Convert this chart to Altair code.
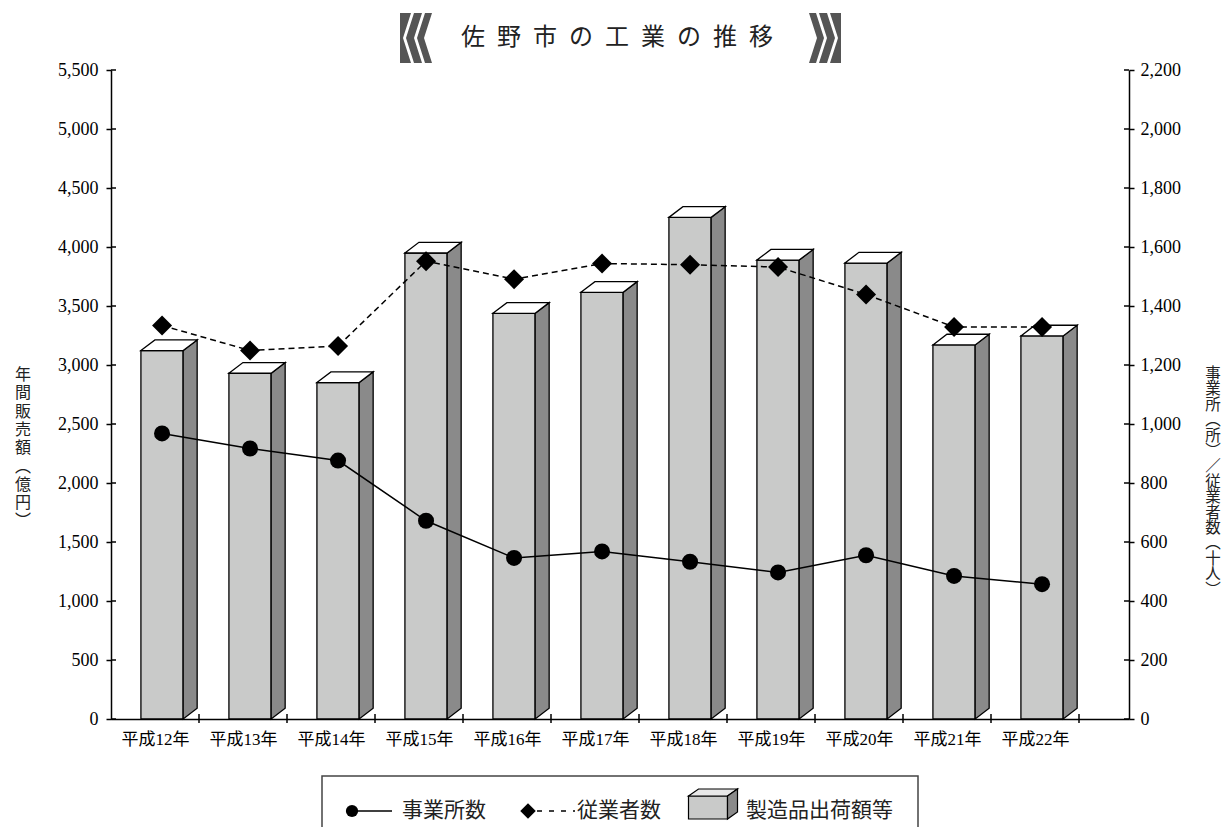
import json
import altair as alt
import pandas as pd

# ---- data ----
cats = ["平成12年", "平成13年", "平成14年", "平成15年", "平成16年", "平成17年",
        "平成18年", "平成19年", "平成20年", "平成21年", "平成22年"]
sales = [3122, 2930, 2851, 3949, 3438, 3616, 4251, 3889, 3864, 3170, 3246]      # 製造品出荷額等 (億円)
estab = [968, 917, 876, 672, 546, 568, 533, 497, 555, 485, 457]                 # 事業所数 (所)
workers = [1334, 1249, 1264, 1552, 1491, 1544, 1540, 1532, 1439, 1329, 1329]    # 従業者数 (十人)
left_ticks = list(range(0, 5501, 500))
right_ticks = list(range(0, 2201, 200))
legend_labels = ["事業所数", "従業者数", "製造品出荷額等"]
title_text = "佐野市の工業の推移"
left_title = "年間販売額︵億円︶"
right_title = "事業所︵所︶／従業者数︵十人︶"

# ---- layout / style ----
W, H = 1018, 649
BAND = 88.0
XMAX = W / BAND
FRONT_L, FRONT_R = 0.34, 0.82
DX = 14 / BAND
DY = 10.7 * 5500 / H
PT = 0.58
NUMF = "Liberation Serif"
SERIF = "Liberation Serif, Noto Sans CJK JP, serif"
SANS = "Noto Sans CJK JP"
FRONT_C, SIDE_C, TOP_C = "#c9cac9", "#8a8a8a", "#ffffff"

n = len(cats)
bars = pd.DataFrame({"i": list(range(n)), "v": sales})
bars["xl"] = bars["i"] + FRONT_L
bars["xr"] = bars["i"] + FRONT_R
bars["lo"] = 0

side_rows, top_rows = [], []
for i, v in enumerate(sales):
    xl, xr = i + FRONT_L, i + FRONT_R
    side_rows += [dict(bar=i, x=xr, lo=0, hi=v), dict(bar=i, x=xr + DX, lo=DY, hi=v + DY)]
    top_rows += [dict(bar=i, x=xl, lo=v, hi=v), dict(bar=i, x=xl + DX, lo=v, hi=v + DY),
                 dict(bar=i, x=xr, lo=v, hi=v + DY), dict(bar=i, x=xr + DX, lo=v + DY, hi=v + DY)]
side_df = pd.DataFrame(side_rows)
top_df = pd.DataFrame(top_rows)

lines = pd.DataFrame({"i": list(range(n)), "estab": estab, "workers": workers})
lines["xc"] = lines["i"] + PT

xscale = alt.Scale(domain=[0, XMAX], nice=False, zero=False)
ylscale = alt.Scale(domain=[0, 5500], nice=False, zero=True)
yrscale = alt.Scale(domain=[0, 2200], nice=False, zero=True)

label_expr = json.dumps(cats, ensure_ascii=False) + "[round(datum.value - 0.5)]"
num_expr = "format(datum.value, ',')"
xaxis = alt.Axis(values=[i + 0.5 for i in range(n)], labelExpr=label_expr, ticks=False, tickSize=0,
                 labelPadding=12, labelFont=SERIF, labelFontSize=17, labelColor="black",
                 domainColor="black", domainWidth=1.5, grid=False, title=None,
                 labelOverlap=False, labelFlush=False, labelBound=False)
ylaxis = alt.Axis(values=left_ticks, labelExpr=num_expr, tickSize=5, tickWidth=1.5, tickColor="black",
                  domainColor="black", domainWidth=1.5, labelPadding=8, labelFont=NUMF,
                  labelFontSize=18, labelColor="black", grid=False, title=None,
                  labelFlush=False, labelOverlap=False)
yraxis = alt.Axis(orient="right", values=right_ticks, labelExpr=num_expr, tickSize=5, tickWidth=1.5,
                  tickColor="black", domainColor="black", domainWidth=1.5, labelPadding=6,
                  labelFont=NUMF, labelFontSize=18, labelColor="black", grid=False, title=None,
                  labelFlush=False, labelOverlap=False)

front = alt.Chart(bars).mark_rect(fill=FRONT_C, stroke="black", strokeWidth=1.3).encode(
    x=alt.X("xl:Q", scale=xscale, axis=xaxis), x2="xr:Q",
    y=alt.Y("v:Q", scale=ylscale, axis=ylaxis), y2="lo:Q")
side = alt.Chart(side_df).mark_area(fill=SIDE_C, stroke="black", strokeWidth=1.3, orient="vertical").encode(
    x=alt.X("x:Q", scale=xscale, axis=xaxis),
    y=alt.Y("hi:Q", scale=ylscale, axis=ylaxis, stack=None), y2="lo:Q", detail="bar:N")
top = alt.Chart(top_df).mark_area(fill=TOP_C, stroke="black", strokeWidth=1.3, orient="vertical").encode(
    x=alt.X("x:Q", scale=xscale, axis=xaxis),
    y=alt.Y("hi:Q", scale=ylscale, axis=ylaxis, stack=None), y2="lo:Q", detail="bar:N")
ltick = alt.Chart(pd.DataFrame({"v": left_ticks})).mark_rule(color="black", strokeWidth=1.5).encode(
    y=alt.Y("v:Q", scale=ylscale, axis=ylaxis), x=alt.value(0), x2=alt.value(5))
xticks = alt.Chart(pd.DataFrame({"b": list(range(1, n + 1))})).mark_rule(color="black", strokeWidth=1.5).encode(
    x=alt.X("b:Q", scale=xscale, axis=xaxis), y=alt.value(H - 5), y2=alt.value(H + 4))
left_group = alt.layer(front, side, top, ltick, xticks)

base = alt.Chart(lines)
l_est = base.mark_line(color="black", strokeWidth=1.5).encode(
    x=alt.X("xc:Q", scale=xscale, axis=xaxis), y=alt.Y("estab:Q", scale=yrscale, axis=yraxis))
p_est = base.mark_point(shape="circle", filled=True, size=256, color="black", opacity=1).encode(
    x=alt.X("xc:Q", scale=xscale, axis=xaxis), y=alt.Y("estab:Q", scale=yrscale, axis=yraxis))
l_wrk = base.mark_line(color="black", strokeWidth=1.5, strokeDash=[6, 4]).encode(
    x=alt.X("xc:Q", scale=xscale, axis=xaxis), y=alt.Y("workers:Q", scale=yrscale, axis=yraxis))
p_wrk = base.mark_point(shape="diamond", filled=True, size=400, color="black", opacity=1).encode(
    x=alt.X("xc:Q", scale=xscale, axis=xaxis), y=alt.Y("workers:Q", scale=yrscale, axis=yraxis))
rtick = alt.Chart(pd.DataFrame({"v": right_ticks})).mark_rule(color="black", strokeWidth=1.5).encode(
    y=alt.Y("v:Q", scale=yrscale, axis=yraxis), x=alt.value(W - 5), x2=alt.value(W))
right_group = alt.layer(l_est, p_est, l_wrk, p_wrk, rtick)

one = pd.DataFrame({"a": [0]})


def txt(text, x, y, **kw):
    return alt.Chart(one).mark_text(**kw).encode(text=alt.value(text), x=alt.value(x), y=alt.value(y))


def sym(path, x, y, fill, stroke=None, sw=0):
    kw = dict(shape=path, size=4, filled=True, fill=fill, opacity=1)
    if stroke:
        kw.update(stroke=stroke, strokeWidth=sw)
    else:
        kw.update(strokeWidth=0)
    return alt.Chart(one).mark_point(**kw).encode(x=alt.value(x), y=alt.value(y))


deco = []
# title
deco.append(txt("\u2002".join(title_text), 506, -32, font=SANS, fontSize=24, color="#222",
                align="center", baseline="middle"))
LB = ("M-16,-25L-5,-25L-13,0L-5,25L-16,25Z "
      "M-2,-25L6,-25L-2,0L6,25L-2,25L-10,0Z "
      "M9,-25L16,-25L8,0L16,25L9,25L1,0Z")
RB = ("M16,-25L5,-25L13,0L5,25L16,25Z "
      "M2,-25L-6,-25L2,0L-6,25L2,25L10,0Z "
      "M-9,-25L-16,-25L-8,0L-16,25L-9,25L-1,0Z")
deco.append(sym(LB, 305, -32, "#555555"))
deco.append(sym(RB, 714, -32, "#555555"))
# axis titles (vertical, first line at given y)
deco.append(txt("\n".join(left_title), -88, 305, font=SANS, fontSize=16, lineHeight=18.3, lineBreak="\n",
                color="#222", align="center", baseline="middle"))
deco.append(txt("\n".join(right_title), 1102, 304, font=SANS, fontSize=15.5, lineHeight=15.4, lineBreak="\n",
                color="#222", align="center", baseline="middle"))
# legend
deco.append(alt.Chart(one).mark_rect(fillOpacity=0, stroke="#444", strokeWidth=1.5).encode(
    x=alt.value(211), x2=alt.value(807), y=alt.value(706), y2=alt.value(800)))
LY = 741
deco.append(alt.Chart(one).mark_rule(color="black", strokeWidth=1.5).encode(
    x=alt.value(241), x2=alt.value(281), y=alt.value(LY)))
deco.append(alt.Chart(one).mark_point(shape="circle", filled=True, size=150, color="black", opacity=1).encode(
    x=alt.value(241), y=alt.value(LY)))
deco.append(txt(legend_labels[0], 291, LY, font=SERIF, fontSize=21, color="#222", align="left", baseline="middle"))
deco.append(alt.Chart(one).mark_rule(color="black", strokeWidth=1.5, strokeDash=[5, 7]).encode(
    x=alt.value(426), x2=alt.value(464), y=alt.value(LY)))
deco.append(alt.Chart(one).mark_point(shape="diamond", filled=True, size=240, color="black", opacity=1).encode(
    x=alt.value(417), y=alt.value(LY)))
deco.append(txt(legend_labels[1], 466, LY, font=SERIF, fontSize=21, color="#222", align="left", baseline="middle"))
deco.append(sym("M-24,-8L15,-8L15,15L-24,15Z", 601.5, LY - 7, FRONT_C, "black", 1.2))
deco.append(sym("M-24,-8L-14,-15L25,-15L15,-8Z", 601.5, LY - 7, "#e8e8e8", "black", 1.2))
deco.append(sym("M15,-8L25,-15L25,8L15,15Z", 601.5, LY - 7, SIDE_C, "black", 1.2))
deco.append(txt(legend_labels[2], 635, LY, font=SERIF, fontSize=21, color="#222", align="left", baseline="middle"))

chart = alt.layer(left_group, right_group, *deco).resolve_scale(y="independent").properties(
    width=W, height=H,
    padding={"left": 103, "top": 62, "right": 94, "bottom": 108},
    autosize=alt.AutoSizeParams(type="none"),
    background="white",
).configure_view(stroke=None).configure_axis(
    labelFont=SERIF, labelFontSize=18, labelColor="black", domainColor="black", domainWidth=1.5,
    tickColor="black", tickWidth=1.5, grid=False,
).configure_axisY(labelFont=NUMF).configure_axisX(labelFontSize=17)

chart.save("out.html", embed_options={"renderer": "svg", "actions": False})
